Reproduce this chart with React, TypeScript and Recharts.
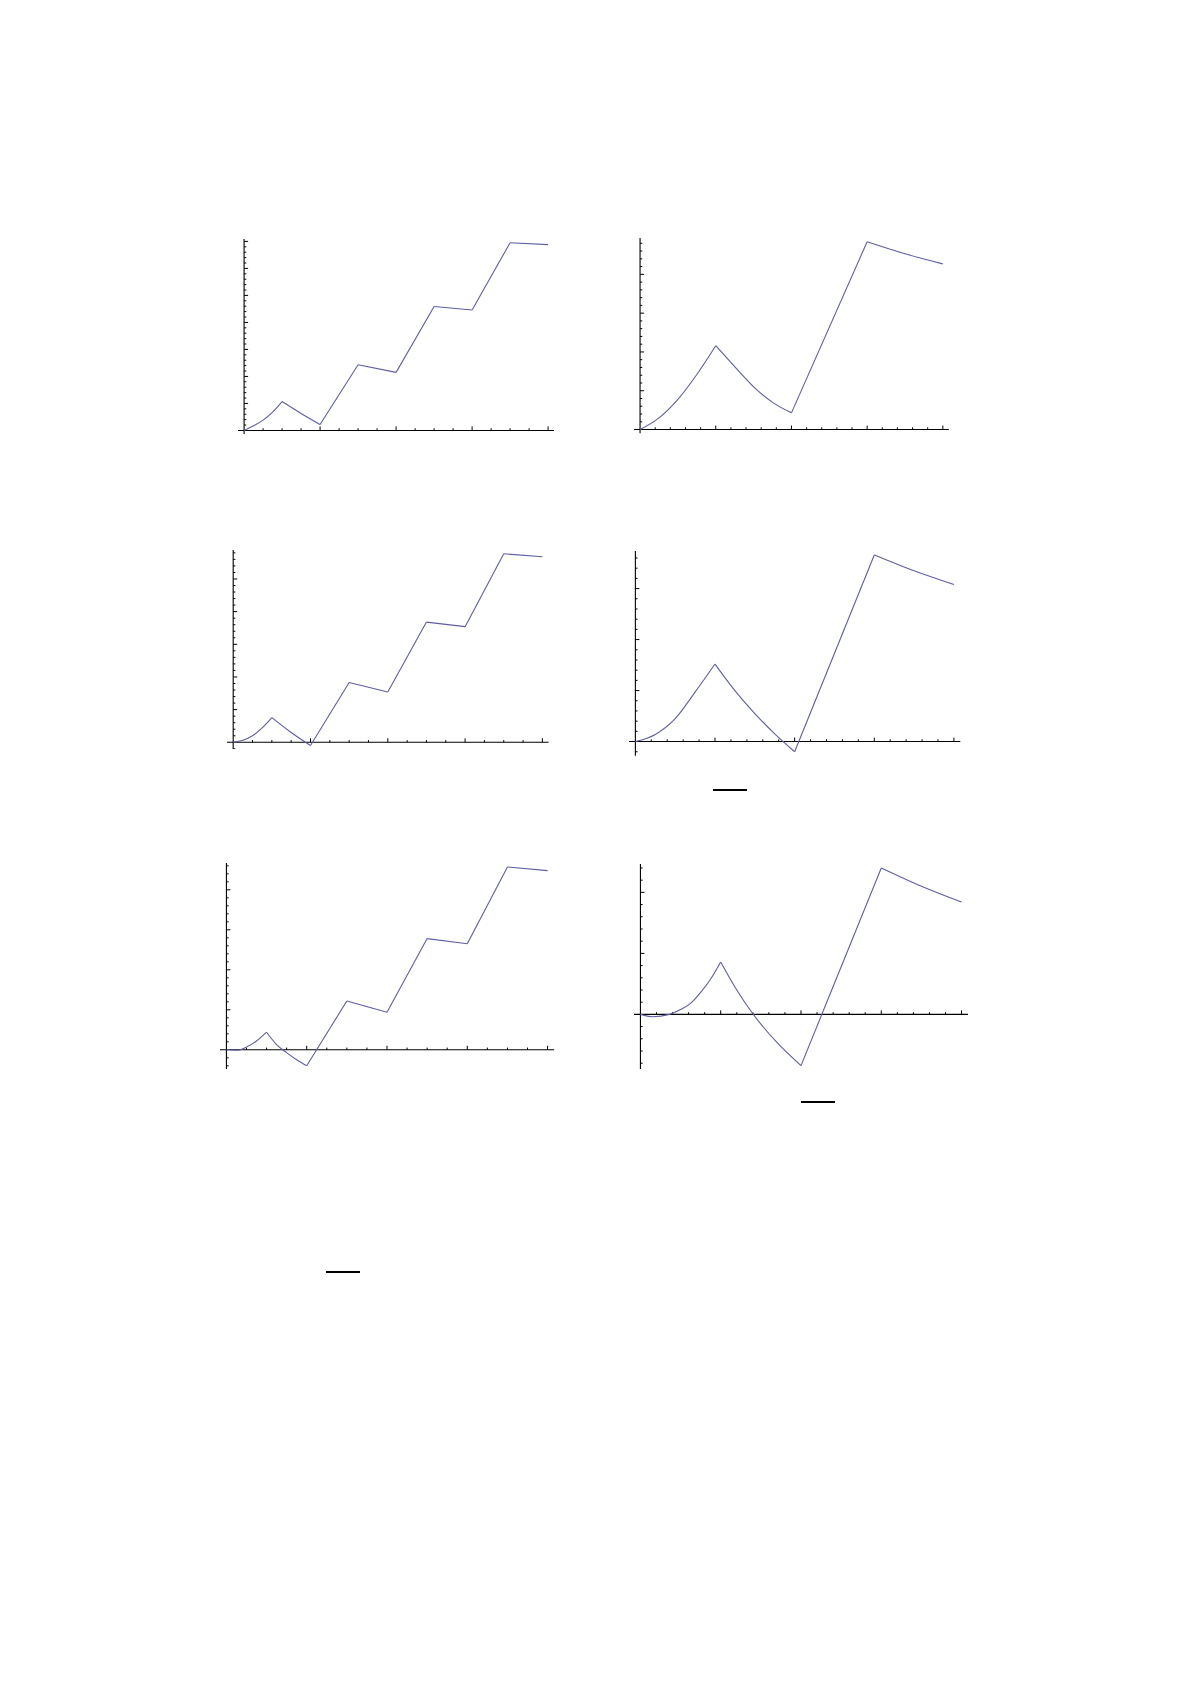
import React from "react";
import { LineChart, Line, XAxis, YAxis, ReferenceLine } from "recharts";

// ---- data (x in plot units, y in tick units) ----
const plot1X = [0, 0.125, 0.25, 0.375, 0.5, 0.75, 1, 1.5, 2, 2.5, 3, 3.5, 4];
const plot1Y = [0, 0.17, 0.38, 0.68, 1.07, 0.63, 0.22, 2.43, 2.15, 4.59, 4.46, 6.95, 6.88];

const plot2X = [0, 0.25, 0.5, 0.75, 1, 1.25, 1.5, 1.75, 2, 3, 3.5, 4];
const plot2Y = [0, 0.3, 0.78, 1.42, 2.16, 1.62, 1.1, 0.7, 0.43, 4.84, 4.53, 4.27];

const plot3X = [0, 0.125, 0.25, 0.375, 0.5, 0.75, 1, 1.5, 2, 2.5, 3, 3.5, 4];
const plot3Y = [0, 0.06, 0.2, 0.44, 0.755, 0.3, -0.1, 1.83, 1.54, 3.68, 3.54, 5.77, 5.68];

const plot4X = [0, 0.25, 0.5, 0.75, 1, 1.25, 1.5, 1.75, 2, 3, 3.5, 4];
const plot4Y = [0, 0.14, 0.45, 0.97, 1.52, 1.0, 0.55, 0.15, -0.2, 3.66, 3.35, 3.08];

const plot5X = [0, 0.15, 0.25, 0.375, 0.5, 0.625, 0.75, 0.875, 1, 1.5, 2, 2.5, 3, 3.5, 4];
const plot5Y = [0, -0.01, 0.07, 0.22, 0.44, 0.13, -0.07, -0.25, -0.4, 1.22, 0.94, 2.78, 2.65, 4.57, 4.48];

const plot6X = [0, 0.15, 0.36, 0.5, 0.625, 0.75, 0.875, 1, 1.2, 1.4, 1.7, 2, 3, 3.5, 4];
const plot6Y = [0, -0.04, 0, 0.08, 0.18, 0.36, 0.58, 0.86, 0.4, 0.01, -0.46, -0.84, 2.4, 2.1, 1.84];

// kinks (segment boundaries) of each curve
const kinksHalf = [0.5, 1, 1.5, 2, 2.5, 3, 3.5];
const kinksWhole = [1, 2, 3];

// ---- tick values ----
const xMajorTicks = [1, 2, 3, 4];
const xMinorQuarter = [0.25, 0.5, 0.75, 1.25, 1.5, 1.75, 2.25, 2.5, 2.75, 3.25, 3.5, 3.75];
const xMinorFifth = [0.2, 0.4, 0.6, 0.8, 1.2, 1.4, 1.6, 1.8, 2.2, 2.4, 2.6, 2.8, 3.2, 3.4, 3.6, 3.8];
const yMinorStep = 0.2;

// ---- layout (pixels on the page) ----
const layouts = [
  { left: 238.2, top: 238.6, width: 316.2, height: 195.2, yDomain: [-0.139, 7.089], xMinor: xMinorQuarter, kinks: kinksHalf },
  { left: 633.9, top: 238.4, width: 314.9, height: 195.3, yDomain: [-0.097, 4.937], xMinor: xMinorFifth, kinks: kinksWhole },
  { left: 227.1, top: 550.0, width: 321.6, height: 199.4, yDomain: [-0.217, 5.887], xMinor: xMinorQuarter, kinks: kinksHalf },
  { left: 629.3, top: 551.4, width: 331.3, height: 204.7, yDomain: [-0.277, 3.737], xMinor: xMinorFifth, kinks: kinksWhole },
  { left: 219.6, top: 862.5, width: 334.0, height: 206.8, yDomain: [-0.5, 4.67], xMinor: xMinorQuarter, kinks: kinksHalf },
  { left: 634.3, top: 863.6, width: 334.0, height: 205.6, yDomain: [-0.905, 2.465], xMinor: xMinorFifth, kinks: kinksWhole },
];
const xDomain: [number, number] = [-0.08, 4.08];

const fractionBars = [
  { left: 713, top: 789, width: 34 },
  { left: 801, top: 1101, width: 34 },
  { left: 326, top: 1271, width: 34 },
];

const series = [
  [plot1X, plot1Y],
  [plot2X, plot2Y],
  [plot3X, plot3Y],
  [plot4X, plot4Y],
  [plot5X, plot5Y],
  [plot6X, plot6Y],
];

const LINE_COLOR = "#5e5ea4";
const MAJOR = 4;
const MINOR = 2.2;

function yTickValues(d: number[]) {
  const major: number[] = [];
  const minor: number[] = [];
  const start = Math.ceil(d[0] / yMinorStep - 1e-9);
  const end = Math.floor(d[1] / yMinorStep + 1e-9);
  for (let i = start; i <= end; i++) {
    if (i === 0) continue;
    const v = Math.round(i * yMinorStep * 1000) / 1000;
    if (i % 5 === 0) major.push(v);
    else minor.push(v);
  }
  return { major, minor };
}

function makeXAxisShape(minor: number[]) {
  return (p: any) => {
    const L = Math.min(p.x1, p.x2);
    const R = Math.max(p.x1, p.x2);
    const y = p.y1;
    const toPx = (t: number) => L + ((t - xDomain[0]) / (xDomain[1] - xDomain[0])) * (R - L);
    return (
      <g>
        <line x1={L} x2={R} y1={y} y2={y} stroke="#000" strokeWidth={1.1} />
        {xMajorTicks.map((t) => (
          <line key={"M" + t} x1={toPx(t)} x2={toPx(t)} y1={y} y2={y - MAJOR} stroke="#000" strokeWidth={1} />
        ))}
        {minor.map((t) => (
          <line key={"m" + t} x1={toPx(t)} x2={toPx(t)} y1={y} y2={y - MINOR} stroke="#000" strokeWidth={1} />
        ))}
      </g>
    );
  };
}

function makeYAxisShape(yDomain: number[]) {
  const { major, minor } = yTickValues(yDomain);
  return (p: any) => {
    const T = Math.min(p.y1, p.y2);
    const B = Math.max(p.y1, p.y2);
    const x = p.x1;
    const toPx = (t: number) => B - ((t - yDomain[0]) / (yDomain[1] - yDomain[0])) * (B - T);
    return (
      <g>
        <line x1={x} x2={x} y1={T} y2={B} stroke="#000" strokeWidth={1.1} />
        {major.map((t) => (
          <line key={"M" + t} x1={x} x2={x + MAJOR} y1={toPx(t)} y2={toPx(t)} stroke="#000" strokeWidth={1} />
        ))}
        {minor.map((t) => (
          <line key={"m" + t} x1={x} x2={x + MINOR} y1={toPx(t)} y2={toPx(t)} stroke="#000" strokeWidth={1} />
        ))}
      </g>
    );
  };
}

// split each curve into smooth pieces between kinks; kink rows belong to both pieces
function buildRows(xs: number[], ys: number[], kinks: number[]) {
  return xs.map((x, i) => {
    const row: Record<string, number> = { x };
    let seg = 0;
    while (seg < kinks.length && x > kinks[seg] + 1e-9) seg++;
    row["s" + seg] = ys[i];
    if (seg < kinks.length && Math.abs(x - kinks[seg]) < 1e-9) row["s" + (seg + 1)] = ys[i];
    return row;
  });
}

function Plot({ idx }: { idx: number }) {
  const lay = layouts[idx];
  const [xs, ys] = series[idx];
  const data = buildRows(xs, ys, lay.kinks);
  const segKeys = Array.from({ length: lay.kinks.length + 1 }, (_, i) => "s" + i);
  return (
    <div style={{ position: "absolute", left: lay.left, top: lay.top }}>
      <LineChart width={lay.width} height={lay.height} data={data} margin={{ top: 0, right: 0, bottom: 0, left: 0 }}>
        <XAxis dataKey="x" type="number" domain={xDomain} hide allowDataOverflow />
        <YAxis type="number" domain={lay.yDomain} hide allowDataOverflow />
        <ReferenceLine y={0} shape={makeXAxisShape(lay.xMinor)} />
        <ReferenceLine x={0} shape={makeYAxisShape(lay.yDomain)} />
        {segKeys.map((k) => (
          <Line
            key={k}
            type="monotone"
            dataKey={k}
            stroke={LINE_COLOR}
            strokeWidth={1.1}
            dot={false}
            activeDot={false}
            connectNulls={false}
            isAnimationActive={false}
          />
        ))}
      </LineChart>
    </div>
  );
}

export default function App() {
  return (
    <div style={{ position: "absolute", left: 0, top: 0, width: 1191, height: 1685, background: "#fff" }}>
      {layouts.map((_, i) => (
        <Plot key={i} idx={i} />
      ))}
      {fractionBars.map((b, i) => (
        <div
          key={i}
          style={{ position: "absolute", left: b.left, top: b.top, width: b.width, height: 2, background: "#000" }}
        />
      ))}
    </div>
  );
}
